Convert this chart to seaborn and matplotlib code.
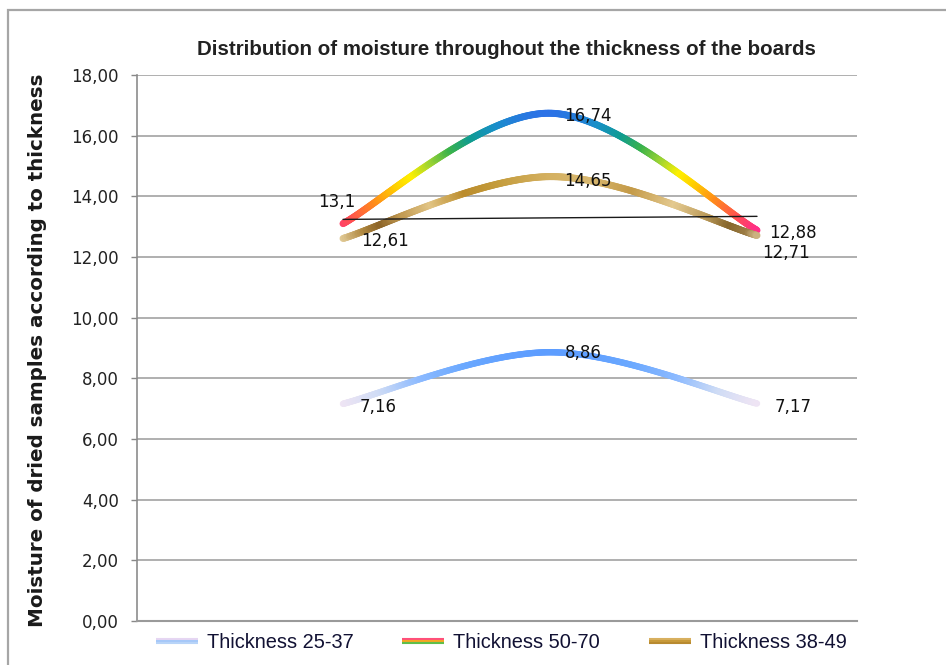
import numpy as np
import pandas as pd
import matplotlib
matplotlib.use("Agg")
import matplotlib.pyplot as plt
import seaborn as sns
from matplotlib.path import Path
from matplotlib.patches import Rectangle
from matplotlib.collections import LineCollection
from matplotlib.colors import LinearSegmentedColormap
from matplotlib.lines import Line2D
from matplotlib.legend_handler import HandlerBase

# data
positions = [0, 1, 2]
thick_25_37 = [7.16, 8.86, 7.17]
thick_50_70 = [13.1, 16.74, 12.88]
thick_38_49 = [12.61, 14.65, 12.71]
trend_x = [0, 2]
trend_y = [13.24, 13.34]
series_names = ["Thickness 25-37", "Thickness 50-70", "Thickness 38-49"]
y_ticks = [0, 2, 4, 6, 8, 10, 12, 14, 16, 18]

# label offsets in pixels (dx, dy) for each point
offs_25_37 = [(35, -3), (33, -1), (36, -3)]
offs_50_70 = [(-6, 22), (38, -3), (36, -3)]
offs_38_49 = [(42, -3), (38, -4), (29, -18)]


def fmt(v):
    return f"{v:g}".replace(".", ",")


def smooth_path(xs, ys):
    # Catmull-Rom style bezier, like the office "smoothed line" option
    pts = np.column_stack([xs, ys]).astype(float)
    n = len(pts)
    verts = [pts[0]]
    codes = [Path.MOVETO]
    for i in range(n - 1):
        p_prev = pts[i - 1] if i > 0 else pts[i]
        p_next = pts[i + 2] if i + 2 < n else pts[i + 1]
        c1 = pts[i] + (pts[i + 1] - p_prev) / 6
        c2 = pts[i + 1] - (p_next - pts[i]) / 6
        verts += [c1, c2, pts[i + 1]]
        codes += [Path.CURVE4] * 3
    return Path(verts, codes)


def gradient_line(ax, path, cmap, vmin, vmax, axis="y", lw=5.0, z=3):
    t = np.linspace(0, 1, 150)
    pts = np.vstack([seg(t) for seg, _ in path.iter_bezier()])
    segs = np.stack([pts[:-1], pts[1:]], axis=1)
    mid = segs.mean(axis=1)[:, 1 if axis == "y" else 0]
    cols = cmap(np.clip((mid - vmin) / (vmax - vmin), 0, 1))
    lc = LineCollection(segs, colors=cols, linewidths=lw, capstyle="round",
                        joinstyle="round", zorder=z)
    ax.add_collection(lc)


class StripedLine(Line2D):
    pass


class StripeHandler(HandlerBase):
    def create_artists(self, legend, orig_handle, xdescent, ydescent, width,
                       height, fontsize, trans):
        arts = []
        k = len(orig_handle.stripes)
        for i, c in enumerate(orig_handle.stripes):
            y = height / 2 + (k / 2 - i - 0.5) * 1.3
            ln = Line2D([-xdescent, width - xdescent], [y, y], color=c, lw=1.5,
                        solid_capstyle="butt", transform=trans)
            arts.append(ln)
        return arts


sns.set_theme(style="white")
plt.rcParams["font.family"] = ["DejaVu Sans"]

fig = plt.figure(figsize=(9.46, 6.65), dpi=100)
ax = fig.add_axes([137 / 946, 1 - 621 / 665, 720 / 946, 546 / 665])

ax.set_xlim(-0.995, 2.483)
ax.set_ylim(0, 18)
ax.set_yticks(y_ticks)
ax.set_yticklabels([f"{t:.2f}".replace(".", ",") for t in y_ticks],
                   fontsize=12, color="#222222")
ax.set_xticks([])
ax.yaxis.grid(True, color="#9a9a9a", lw=1.1)
ax.set_axisbelow(True)
ax.tick_params(axis="y", left=True, length=4, width=1, color="#888888", pad=9)
for s in ["top", "right"]:
    ax.spines[s].set_visible(False)
ax.spines["left"].set_color("#8c8c8c")
ax.spines["bottom"].set_color("#9a9a9a")
ax.spines["left"].set_linewidth(1.2)
ax.spines["bottom"].set_linewidth(1.5)

blue_cmap = LinearSegmentedColormap.from_list(
    "b", ["#f4e6f4", "#cfdcf5", "#8cbaff", "#6aa8ff", "#5c9cff"])
rainbow_cmap = LinearSegmentedColormap.from_list(
    "r", [(0, "#ff2d8a"), (0.1, "#ff4d55"), (0.25, "#ff8c1a"), (0.38, "#ffd000"),
          (0.47, "#fff000"), (0.58, "#9ad334"), (0.68, "#3cb34a"), (0.78, "#109c90"),
          (0.88, "#1890c8"), (1, "#2e6fea")])
gold_cmap = LinearSegmentedColormap.from_list(
    "g", [(0, "#ead6a6"), (0.06, "#b08840"), (0.1, "#8c6428"), (0.15, "#c09850"),
          (0.22, "#e2c585"), (0.3, "#bb8c2c"), (0.38, "#c49c3c"), (0.5, "#d4b060"),
          (0.6, "#d8b870"), (0.7, "#c49a48"), (0.8, "#e4ca90"), (0.87, "#c0a060"),
          (0.93, "#86662c"), (0.97, "#9c7c44"), (1, "#dcc494")])

gradient_line(ax, smooth_path(positions, thick_25_37), blue_cmap, 7.1, 8.9, "y", lw=4.6, z=3)
gradient_line(ax, smooth_path(positions, thick_50_70), rainbow_cmap, 12.85, 16.8, "y", lw=5, z=4)
gradient_line(ax, smooth_path(positions, thick_38_49), gold_cmap, -0.02, 2.02, "x", lw=5, z=5)

trend = pd.DataFrame({"pos": trend_x, "val": trend_y})
sns.lineplot(data=trend, x="pos", y="val", color="#1a1a1a", lw=1.0, ax=ax, zorder=6)
ax.set_xlabel("")
ax.set_ylabel("")

for vals, offs in [(thick_25_37, offs_25_37), (thick_50_70, offs_50_70),
                   (thick_38_49, offs_38_49)]:
    for x, v, (dx, dy) in zip(positions, vals, offs):
        ax.annotate(fmt(v), (x, v), xytext=(dx, dy), textcoords="offset pixels",
                    ha="center", va="center", fontsize=12, color="#111111", zorder=7)

# legend with striped handles
stripes = [["#e6d6f2", "#a6c8f8", "#b8d4f8"],
           ["#ff4f7a", "#f5a623", "#5fbf4a"],
           ["#d8b060", "#c89a3a", "#b88a30"]]
handles = []
for name, st in zip(series_names, stripes):
    h = StripedLine([], [], label=name)
    h.stripes = st
    handles.append(h)
fig.legend(handles=handles, loc="center", bbox_to_anchor=(0.530, 0.034), ncol=3,
           frameon=False, handler_map={StripedLine: StripeHandler()},
           prop={"family": "Liberation Sans", "size": 14.4}, handlelength=2.1,
           handletextpad=0.45, columnspacing=2.45, labelcolor="#111133")

fig.text(0.535, 0.925, "Distribution of moisture throughout the thickness of the boards",
         ha="center", va="center", fontsize=14.8, fontweight="bold",
         family="Liberation Sans", color="#222222")
fig.text(0.040, 0.474, "Moisture of dried samples according to thickness",
         rotation=90, ha="center", va="center", fontsize=14.3, fontweight="bold",
         family="DejaVu Sans", color="#1a1a1a")

# outer chart frame
fig.patches.append(Rectangle((8 / 946, -0.02), 1.0, 1.02 - 10 / 665, fill=False,
                             edgecolor="#a6a6a6", lw=1.6, transform=fig.transFigure))

fig.savefig("out.png", dpi=100)
